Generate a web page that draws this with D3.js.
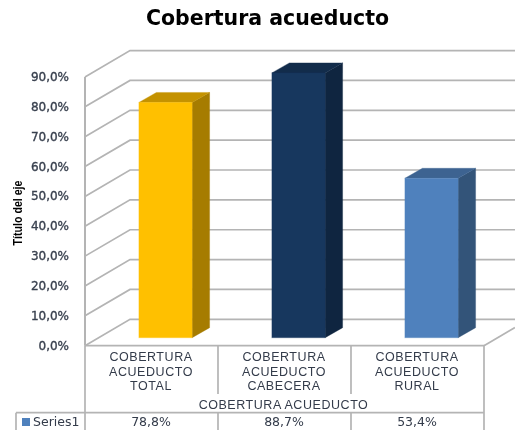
<!DOCTYPE html>
<html><head><meta charset="utf-8">
<script src="https://d3js.org/d3.v7.min.js"></script>
<style>html,body{margin:0;padding:0;background:#fff;overflow:hidden}svg{display:block;filter:blur(0.45px)}</style>
</head><body><svg id="c" width="515" height="430"></svg>
<script>
const chartTitle = "Cobertura acueducto";
const axisTitle = "Título del eje";
const groupLabel = "COBERTURA ACUEDUCTO";
const seriesName = "Series1";
const categories = ["COBERTURA ACUEDUCTO TOTAL","COBERTURA ACUEDUCTO CABECERA","COBERTURA ACUEDUCTO RURAL"];
const values = [78.8,88.7,53.4];
const valueLabels = ["78,8%","88,7%","53,4%"];
const yTicks = [0,10,20,30,40,50,60,70,80,90];
const frontColors = ["#ffc000","#17375e","#4f81bd"];
const sideColors = ["#a67c00","#0f2540","#335479"];
const topColors = ["#c49200","#122c4b","#3d6391"];

const svg = d3.select("#c");
const font = "'DejaVu Sans',sans-serif";
const grid = "#b4b4b4";
const left = 85, right = 484, wallDx = 45, wallDy = -26.4, barShiftY = -8, depthX = 17.5, depthY = -10;
const y = d3.scaleLinear().domain([0,90]).range([345.7,77]);
const x = d3.scaleBand().domain(categories).range([left,right]).paddingInner(0.6).paddingOuter(0.3);

// walls & floor
const wall = svg.append("g").attr("fill","none").attr("stroke",grid).attr("stroke-width",1.7);
wall.selectAll("path.g").data(yTicks).join("path")
  .attr("d",d=>`M${left},${y(d)}L${left+wallDx},${y(d)+wallDy}L515,${y(d)+wallDy}`);
wall.append("path").attr("d",`M${left},${y(0)}L${left},${y(90)}`).attr("stroke-width",2);
wall.append("path").attr("d",`M${right},${y(0)}L515,${y(0)-18.2}`);

// bars
const bars = svg.append("g").selectAll("g").data(categories).join("g");
const bx = d=>x(d)+14;
const by = (d,i)=>y(values[i])+barShiftY;
const b0 = y(0)+barShiftY;
bars.append("path").attr("fill",(d,i)=>sideColors[i]).attr("stroke",(d,i)=>sideColors[i]).attr("stroke-opacity",.35)
  .attr("d",(d,i)=>{const r=bx(d)+x.bandwidth();return `M${r},${by(d,i)}l${depthX},${depthY}L${r+depthX},${b0+depthY}L${r},${b0}Z`;});
bars.append("path").attr("fill",(d,i)=>topColors[i]).attr("stroke",(d,i)=>topColors[i]).attr("stroke-opacity",.35)
  .attr("d",(d,i)=>`M${bx(d)},${by(d,i)}l${depthX},${depthY}h${x.bandwidth()}l${-depthX},${-depthY}Z`);
bars.append("rect").attr("fill",(d,i)=>frontColors[i]).attr("stroke",(d,i)=>frontColors[i]).attr("stroke-opacity",.35)
  .attr("x",d=>bx(d)).attr("y",by).attr("width",x.bandwidth()).attr("height",(d,i)=>b0-by(d,i));

// y tick labels
svg.append("g").selectAll("text").data(yTicks).join("text")
  .attr("x",69).attr("y",d=>y(d)+0.5).attr("text-anchor","end").attr("font-family",font)
  .attr("font-size",12).attr("fill","#39414f").attr("stroke","#39414f").attr("stroke-width",0.35).attr("dominant-baseline","middle")
  .text(d=>d.toFixed(1).replace(".",",")+"%");

// title
svg.append("text").attr("x",267.5).attr("y",25).attr("text-anchor","middle").attr("font-family",font)
  .attr("font-weight","bold").attr("font-size",20.5).attr("fill","#000").text(chartTitle);

// axis title
svg.append("text").attr("transform","translate(22,213) rotate(-90)").attr("text-anchor","middle")
  .attr("font-family","'Liberation Sans Narrow','Liberation Sans',sans-serif").attr("font-weight","bold").attr("font-size",13)
  .attr("textLength",65).attr("lengthAdjust","spacingAndGlyphs").attr("fill","#000").text(axisTitle);

// data table
const tbl = svg.append("g").attr("stroke",grid).attr("stroke-width",1.7).attr("fill","none");
const cellEdges = [left].concat(categories.map(d=>x(d)-x.step()*x.paddingOuter()+x.step()));
const hTop = y(0), hMid = 394, hLine = 412.7;
tbl.append("path").attr("d",`M${left},${hTop}H${right}V430M${left},${hTop}V430M16,${hLine}H${right}M16,${hLine}V430`);
tbl.selectAll("path.v").data(cellEdges.slice(1,3)).join("path")
  .attr("d",d=>`M${d},${hTop}V${hMid}M${d},${hLine}V430`);

const labelFont = "'Liberation Sans',sans-serif";
const catGroup = svg.append("g").attr("font-family",labelFont).attr("font-size",12.5).attr("letter-spacing",0.55).attr("fill","#333b4a").attr("text-anchor","middle");
categories.forEach((c,i)=>{
  const cx = cellEdges[i]+x.step()/2-0.5;
  const words = c.split(" ");
  words.forEach((w,j)=>catGroup.append("text").attr("x",cx).attr("y",361+j*14.7).text(w));
});
catGroup.append("text").attr("x",283.5).attr("y",408.5).text(groupLabel);

const row = svg.append("g").attr("font-family",font).attr("font-size",12.5).attr("fill","#333b4a");
row.selectAll("text").data(valueLabels).join("text")
  .attr("x",(d,i)=>cellEdges[i]+x.step()/2-0.5).attr("y",425.5).attr("text-anchor","middle").text(d=>d);
svg.append("rect").attr("x",22).attr("y",418).attr("width",8).attr("height",8).attr("fill","#4f81bd");
svg.append("text").attr("x",33).attr("y",425.5).attr("font-family",font).attr("font-size",12.5).attr("fill","#333b4a").text(seriesName);
</script></body></html>
